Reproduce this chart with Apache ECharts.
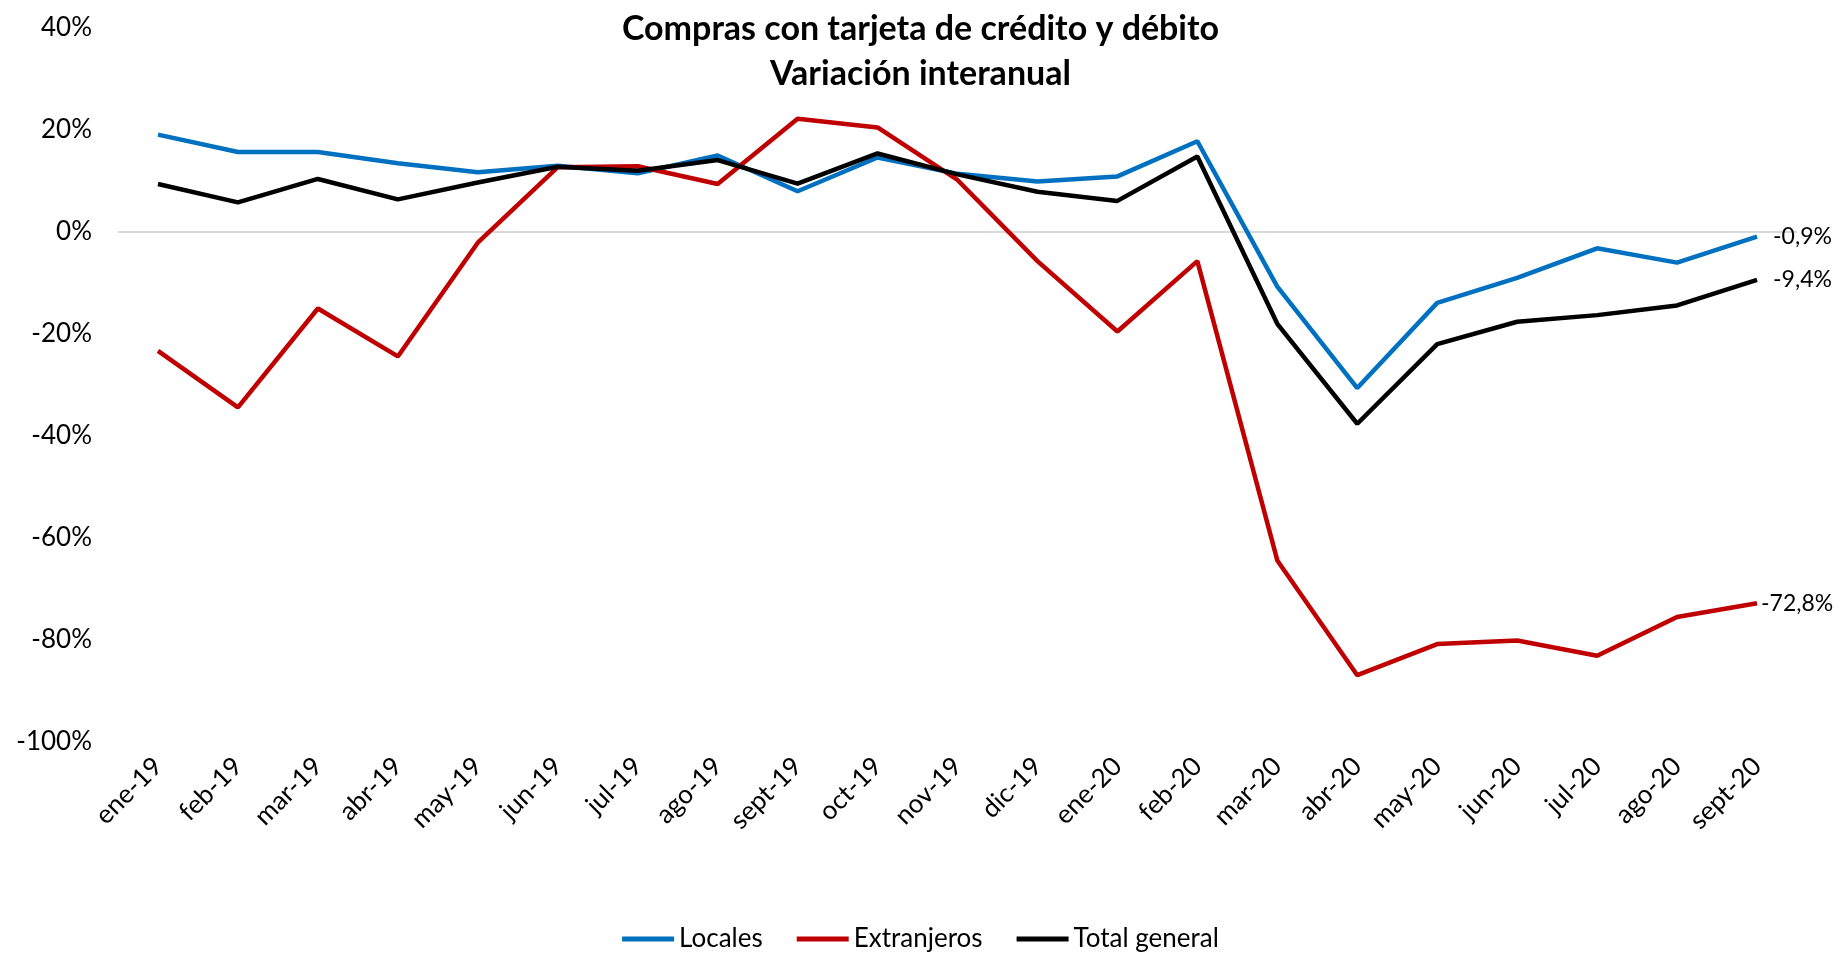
<!DOCTYPE html>
<html>
<head>
<meta charset="utf-8">
<title>Compras con tarjeta de crédito y débito</title>
<script src="https://cdn.jsdelivr.net/npm/echarts@6/dist/echarts.min.js"></script>
<style>
  html, body { margin: 0; padding: 0; background: #fff; }
  #chart { width: 1841px; height: 954px; }
</style>
</head>
<body>
<div id="chart"></div>
<script>
const months = ['ene-19', 'feb-19', 'mar-19', 'abr-19', 'may-19', 'jun-19', 'jul-19', 'ago-19', 'sept-19', 'oct-19', 'nov-19', 'dic-19',
  'ene-20', 'feb-20', 'mar-20', 'abr-20', 'may-20', 'jun-20', 'jul-20', 'ago-20', 'sept-20'];

const locales = [19.1, 15.7, 15.7, 13.5, 11.7, 13.0, 11.5, 15.0, 8.0, 14.6, 11.4, 9.9,
  10.9, 17.8, -10.7, -30.6, -13.9, -9.0, -3.2, -6.0, -0.9];

const extranjeros = [-23.3, -34.4, -15.0, -24.4, -2.1, 12.7, 12.9, 9.4, 22.2, 20.5, 10.2, -5.7,
  -19.5, -5.7, -64.4, -86.9, -80.8, -80.1, -83.1, -75.5, -72.8];

const totalGeneral = [9.4, 5.8, 10.4, 6.4, 9.7, 12.8, 12.0, 14.1, 9.5, 15.4, 11.3, 7.9,
  6.1, 14.8, -18.0, -37.6, -22.0, -17.6, -16.3, -14.4, -9.4];

const yTicks = { min: -100, max: 40, step: 20 };

const FONT = 'Lato';

const chart = echarts.init(document.getElementById('chart'));

const pct = v => v.toFixed(1).replace('.', ',') + '%';

function lineSeries(name, values, color, labelGap) {
  return {
    name,
    type: 'line',
    data: values,
    symbol: 'none',
    lineStyle: { width: 4.5, color },
    itemStyle: { color },
    endLabel: {
      show: true,
      distance: labelGap,
      color: '#000',
      fontSize: 23,
      fontFamily: FONT,
      formatter: p => pct(p.value),
    },
    z: 3,
  };
}

const series = [
  lineSeries('Locales', locales, '#0070C0', 16),
  lineSeries('Extranjeros', extranjeros, '#C00000', 4),
  lineSeries('Total general', totalGeneral, '#000000', 16),
];
series[0].markLine = {
  silent: true,
  symbol: 'none',
  label: { show: false },
  lineStyle: { color: '#D9D9D9', width: 2, type: 'solid' },
  data: [{ yAxis: 0 }],
  z: 1,
};

chart.setOption({
  animation: false,
  backgroundColor: '#fff',
  textStyle: { fontFamily: FONT },
  title: {
    text: 'Compras con tarjeta de crédito y débito\nVariación interanual',
    left: 'center',
    top: 2,
    textStyle: { fontSize: 34, fontWeight: 'bold', lineHeight: 45, color: '#000', fontFamily: FONT },
  },
  legend: {
    top: 921,
    left: 'center',
    icon: 'rect',
    itemWidth: 52,
    itemHeight: 5,
    itemGap: 34,
    textStyle: { fontSize: 26, color: '#000', fontFamily: FONT },
    data: ['Locales', 'Extranjeros', 'Total general'],
  },
  grid: {
    left: 118,
    right: 44,
    top: 28,
    bottom: 212,
    outerBoundsMode: 'none',
  },
  xAxis: {
    type: 'category',
    data: months,
    boundaryGap: true,
    axisLine: { show: false },
    axisTick: { show: false },
    axisLabel: { rotate: 45, margin: 20, fontSize: 26, color: '#000', fontFamily: FONT, interval: 0 },
  },
  yAxis: {
    type: 'value',
    min: yTicks.min,
    max: yTicks.max,
    interval: yTicks.step,
    axisLine: { show: false },
    axisTick: { show: false },
    splitLine: { show: false },
    axisLabel: { fontSize: 26, color: '#000', margin: 26, fontFamily: FONT, formatter: v => v + '%' },
  },
  series,
});
</script>
</body>
</html>
